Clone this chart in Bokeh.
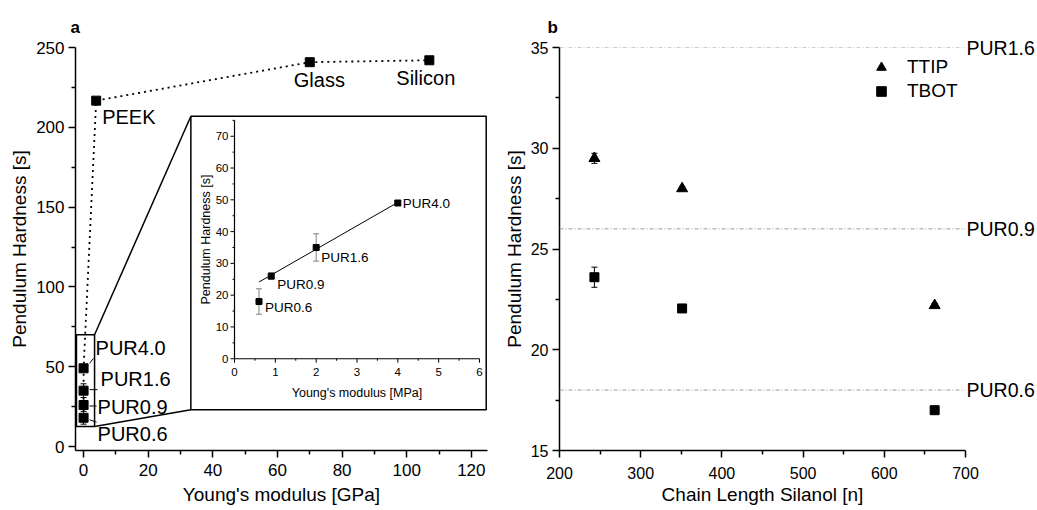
import numpy as np
from bokeh.plotting import figure
from bokeh.layouts import row
from bokeh.models import Range1d, FixedTicker, Span, Legend, LegendItem, ColumnDataSource, LinearAxis
from bokeh.core.properties import value
from bokeh.embed import file_html
from bokeh.resources import INLINE

FONT = "Liberation Sans"

# ---------------- data: panel a (main) ----------------
materials = ["PUR0.6", "PUR0.9", "PUR1.6", "PUR4.0", "PEEK", "Glass", "Silicon"]
modulus_gpa = [0.0006, 0.0009, 0.002, 0.004, 3.9, 70.0, 107.0]
hardness_a = [18, 26, 35, 49, 216.7, 240.8, 242.0]
hardness_a_err = [4.0, 1.0, 4.3, 0.5, 0.0, 0.0, 0.0]
a_xticks = [0, 20, 40, 60, 80, 100, 120]
a_yticks = [0, 50, 100, 150, 200, 250]

# ---------------- data: panel a (inset) ----------------
pur_labels = ["PUR0.6", "PUR0.9", "PUR1.6", "PUR4.0"]
pur_modulus_mpa = [0.6, 0.9, 2.0, 4.0]
pur_hardness = [18, 26, 35, 49]
pur_err = [4.0, 1.0, 4.3, 0.5]
fit_idx = [1, 2, 3]
inset_xticks = [0, 1, 2, 3, 4, 5, 6]
inset_yticks = [0, 10, 20, 30, 40, 50, 60, 70]

# ---------------- data: panel b ----------------
chain_length = [243, 351, 662]
ttip = [29.5, 28.0, 22.2]
ttip_err = [0.25, 0.1, 0.1]
tbot = [23.6, 22.05, 17.0]
tbot_err = [0.5, 0.1, 0.1]
ref_values = [35, 26, 18]
ref_labels = ["PUR1.6", "PUR0.9", "PUR0.6"]
b_xticks = [200, 300, 400, 500, 600, 700]
b_yticks = [15, 20, 25, 30, 35]


def style_axis(ax, label, tick_size="17px", label_size="19px", standoff=6, tick_standoff=4):
    ax.axis_label = label
    ax.axis_label_text_font = FONT
    ax.axis_label_text_font_size = label_size
    ax.axis_label_text_font_style = "normal"
    ax.axis_label_text_color = "black"
    ax.axis_label_standoff = standoff
    ax.major_label_text_font = FONT
    ax.major_label_text_font_size = tick_size
    ax.major_label_text_color = "black"
    ax.major_label_standoff = tick_standoff
    ax.axis_line_width = 1.5
    ax.axis_line_color = "black"
    ax.major_tick_line_width = 1.5
    ax.minor_tick_line_width = 1.5
    ax.major_tick_line_color = "black"
    ax.minor_tick_line_color = "black"
    ax.major_tick_out = 7
    ax.major_tick_in = 0
    ax.minor_tick_out = 4
    ax.minor_tick_in = 0


def minors(ticks):
    return [(a + b) / 2 for a, b in zip(ticks[:-1], ticks[1:])]


def panel_title(p, letter, offset):
    p.title.text = letter
    p.title.text_font = FONT
    p.title.text_font_size = "17px"
    p.title.text_font_style = "bold"
    p.title.text_color = "black"
    p.title.align = "left"
    p.title.offset = offset
    p.title.standoff = 22


# ======================= Panel a =======================
XR = (-2.5, 125.0)
YR = (-2.5, 250.0)
FW, FH = 412, 404
pa = figure(width=500, height=510, x_range=Range1d(*XR), y_range=Range1d(*YR),
            output_backend="svg", toolbar_location=None,
            min_border_left=75, min_border_right=13, min_border_top=46, min_border_bottom=60)
pa.outline_line_color = None
pa.grid.visible = False
pa.background_fill_color = "white"
style_axis(pa.xaxis[0], "Young's modulus [GPa]", standoff=5, tick_standoff=6)
style_axis(pa.yaxis[0], "Pendulum Hardness [s]", standoff=3)
pa.xaxis[0].ticker = FixedTicker(ticks=a_xticks, minor_ticks=minors(a_xticks))
pa.yaxis[0].ticker = FixedTicker(ticks=a_yticks, minor_ticks=minors(a_yticks))
panel_title(pa, "a", -5)

pxx = FW / (XR[1] - XR[0])
pxy = FH / (YR[1] - YR[0])

# dotted connecting line
pa.line(modulus_gpa, hardness_a, line_color="black", line_width=1.8, line_dash="2 4")

# error bars (main)
eb = [(x, y, e) for x, y, e in zip(modulus_gpa, hardness_a, hardness_a_err) if e > 0]
ex = [t[0] for t in eb]
ey0 = [t[1] - t[2] for t in eb]
ey1 = [t[1] + t[2] for t in eb]
pa.segment(ex, ey0, ex, ey1, line_color="black", line_width=1)
pa.scatter(ex + ex, ey0 + ey1, marker="dash", size=6, line_color="black", line_width=1)
pa.scatter(modulus_gpa, hardness_a, marker="square", size=9, color="black")

# labels (main), offsets in screen px
lab_dx = [14, 14, 17, 12, 6, -16, -33]
lab_dy = [16, 2, -12, -20, 16, 18, 18]
src_lab = ColumnDataSource(dict(x=modulus_gpa, y=hardness_a, t=materials, dx=lab_dx, dy=lab_dy))
pa.text(x="x", y="y", text="t", x_offset="dx", y_offset="dy", source=src_lab,
        text_font=value(FONT), text_font_size="20px", text_align="left",
        text_baseline="middle", text_color="black")

# leader lines for PUR labels (screen px offsets from markers)
lead = [((6, 2), (13, 4.5)), ((6, 1), (13, 1)), ((6, -1), (14, -1)), ((6, -5), (10, -10))]
lx0 = [modulus_gpa[i] + lead[i][0][0] / pxx for i in range(4)]
ly0 = [hardness_a[i] - lead[i][0][1] / pxy for i in range(4)]
lx1 = [modulus_gpa[i] + lead[i][1][0] / pxx for i in range(4)]
ly1 = [hardness_a[i] - lead[i][1][1] / pxy for i in range(4)]
pa.segment(lx0, ly0, lx1, ly1, line_color="black", line_width=1)

# zoom box, inset frame and connectors (main data coords)
zoom_box = dict(left=-2.2, right=3.4, bottom=12.5, top=70.0)
inset_box = dict(left=33.2, right=124.6, bottom=23.1, top=206.9)
pa.quad(left=[zoom_box["left"]], right=[zoom_box["right"]], bottom=[zoom_box["bottom"]],
        top=[zoom_box["top"]], fill_color=None, line_color="black", line_width=1.5)
pa.quad(left=[inset_box["left"]], right=[inset_box["right"]], bottom=[inset_box["bottom"]],
        top=[inset_box["top"]], fill_color=None, line_color="black", line_width=1.5)
pa.segment([zoom_box["right"], zoom_box["right"]], [zoom_box["top"], zoom_box["bottom"]],
           [inset_box["left"], inset_box["left"]], [inset_box["top"], inset_box["bottom"]],
           line_color="black", line_width=1.5)

# inset coordinate system via extra ranges
ix_px, iy_px = 40.83, 3.186        # px per inset unit
ox, oy = 159, 312                   # inset origin relative to frame top-left (px)
pa.extra_x_ranges = {"ix": Range1d(-ox / ix_px, (FW - ox) / ix_px)}
pa.extra_y_ranges = {"iy": Range1d(-(FH - oy) / iy_px, oy / iy_px)}
IK = dict(x_range_name="ix", y_range_name="iy")

# inset axes
pa.segment([0, 0], [0, 0], [0, 6], [75, 0], line_color="black", line_width=1.2, **IK)
yt_min = [v + 5 for v in inset_yticks]
xt_min = [v + 0.5 for v in inset_xticks[:-1]]
pa.segment([0] * len(inset_yticks), inset_yticks, [-4 / ix_px] * len(inset_yticks), inset_yticks,
           line_color="black", line_width=1, **IK)
pa.segment([0] * len(yt_min), yt_min, [-2 / ix_px] * len(yt_min), yt_min,
           line_color="black", line_width=1, **IK)
pa.segment(inset_xticks, [0] * len(inset_xticks), inset_xticks, [-4 / iy_px] * len(inset_xticks),
           line_color="black", line_width=1, **IK)
pa.segment(xt_min, [0] * len(xt_min), xt_min, [-2 / iy_px] * len(xt_min),
           line_color="black", line_width=1, **IK)
pa.text(x=[0] * len(inset_yticks), y=inset_yticks, text=[str(v) for v in inset_yticks],
        x_offset=-6, text_align="right", text_baseline="middle", text_font=value(FONT),
        text_font_size="11.5px", text_color="black", **IK)
pa.text(x=inset_xticks, y=[0] * len(inset_xticks), text=[str(v) for v in inset_xticks],
        y_offset=13, text_align="center", text_baseline="middle", text_font=value(FONT),
        text_font_size="11.5px", text_color="black", **IK)
pa.text(x=[3], y=[0], text=["Young's modulus [MPa]"], y_offset=34, text_align="center",
        text_baseline="middle", text_font=value(FONT), text_font_size="12.5px",
        text_color="black", **IK)
pa.text(x=[0], y=[37.5], text=["Pendulum Hardness [s]"], x_offset=-29, angle=np.pi / 2,
        text_align="center", text_baseline="middle", text_font=value(FONT),
        text_font_size="12.5px", text_color="black", **IK)

# inset fit line
fx = np.array(pur_modulus_mpa)[fit_idx]
fy = np.array(pur_hardness)[fit_idx]
slope, icpt = np.polyfit(fx, fy, 1)
lx = np.array([min(pur_modulus_mpa), max(pur_modulus_mpa)])
pa.line(lx, slope * lx + icpt, line_color="black", line_width=1, **IK)

# inset error bars and markers
iy0 = [y - e for y, e in zip(pur_hardness, pur_err)]
iy1 = [y + e for y, e in zip(pur_hardness, pur_err)]
pa.segment(pur_modulus_mpa, iy0, pur_modulus_mpa, iy1, line_color="#808080", line_width=1, **IK)
pa.scatter(pur_modulus_mpa + pur_modulus_mpa, iy0 + iy1, marker="dash", size=6,
           line_color="#808080", line_width=1, **IK)
pa.scatter(pur_modulus_mpa, pur_hardness, marker="square", size=6, color="black", **IK)
ins_dx = [6, 6, 5, 5]
ins_dy = [6, 8, 10, 0]
src_ins = ColumnDataSource(dict(x=pur_modulus_mpa, y=pur_hardness, t=pur_labels, dx=ins_dx, dy=ins_dy))
pa.text(x="x", y="y", text="t", x_offset="dx", y_offset="dy", source=src_ins,
        text_font=value(FONT), text_font_size="13.5px", text_align="left",
        text_baseline="middle", text_color="black", **IK)

# ======================= Panel b =======================
pb = figure(width=537, height=510, x_range=Range1d(200, 700), y_range=Range1d(15, 35),
            output_backend="svg", toolbar_location=None,
            min_border_left=56, min_border_right=71, min_border_top=47, min_border_bottom=56)
pb.outline_line_color = None
pb.grid.visible = False
style_axis(pb.xaxis[0], "Chain Length Silanol [n]", tick_size="16px", standoff=2, tick_standoff=9)
style_axis(pb.yaxis[0], "Pendulum Hardness [s]", tick_size="16px", standoff=3)
pb.xaxis[0].ticker = FixedTicker(ticks=b_xticks, minor_ticks=minors(b_xticks))
pb.yaxis[0].ticker = FixedTicker(ticks=b_yticks, minor_ticks=minors(b_yticks))
panel_title(pb, "b", -12)

# reference lines with labels drawn by a tick-less right axis
for v in ref_values:
    pb.add_layout(Span(location=v, dimension="width", line_color="#9a9a9a",
                       line_dash="4 2 1 2", line_width=1))
ref_axis = LinearAxis(ticker=FixedTicker(ticks=ref_values, minor_ticks=[]),
                      major_label_overrides={float(v): t for v, t in zip(ref_values, ref_labels)},
                      axis_line_color=None, major_tick_line_color=None, minor_tick_line_color=None,
                      major_tick_out=0, major_tick_in=0, major_label_standoff=1,
                      major_label_text_font=FONT, major_label_text_font_size="19.5px",
                      major_label_text_color="black")
pb.add_layout(ref_axis, "right")

for ys, es in ((ttip, ttip_err), (tbot, tbot_err)):
    y0 = [y - e for y, e in zip(ys, es)]
    y1 = [y + e for y, e in zip(ys, es)]
    pb.segment(chain_length, y0, chain_length, y1, line_color="black", line_width=1)
    pb.scatter(chain_length + chain_length, y0 + y1, marker="dash", size=6,
               line_color="black", line_width=1)

r_t = pb.scatter(chain_length, ttip, marker="triangle", size=11, color="black")
r_b = pb.scatter(chain_length, tbot, marker="square", size=9, color="black")

leg = Legend(items=[LegendItem(label="TTIP", renderers=[r_t]),
                    LegendItem(label="TBOT", renderers=[r_b])],
             location=(310, 347), glyph_width=24, glyph_height=24, label_height=24,
             spacing=-2, padding=0, margin=0, label_standoff=14,
             label_text_font=FONT, label_text_font_size="19px", label_text_color="black",
             border_line_color=None, background_fill_alpha=0)
pb.add_layout(leg)

layout = row(pa, pb)
open("out.html", "w").write(file_html(layout, INLINE))
